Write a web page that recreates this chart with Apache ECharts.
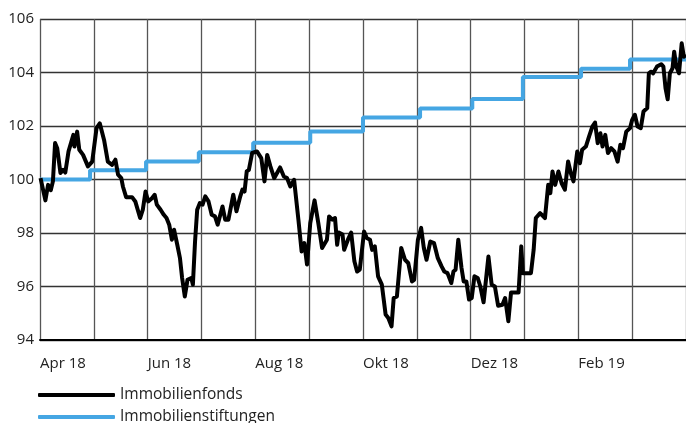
<!DOCTYPE html>
<html>
<head>
<meta charset="utf-8">
<script src="https://cdn.jsdelivr.net/npm/echarts@6/dist/echarts.min.js"></script>
<style>
  html, body { margin: 0; padding: 0; background: #fff; }
  #chart { width: 686px; height: 423px; }
</style>
</head>
<body>
<div id="chart"></div>
<script>
// Month labels along the time axis (one per month, every second one printed)
const monthLabels = ['Apr 18', 'Mai 18', 'Jun 18', 'Jul 18', 'Aug 18', 'Sep 18',
                     'Okt 18', 'Nov 18', 'Dez 18', 'Jan 19', 'Feb 19', 'Mär 19'];

// Immobilienfonds: time in months since 1 April 2018, and index value
const fondsT = [
  0.01, 0.10, 0.15, 0.20, 0.24, 0.28, 0.32, 0.38, 0.43, 0.47, 0.53, 0.62, 0.64, 0.69, 0.73, 0.80,
  0.89, 0.97, 1.05, 1.11, 1.19, 1.26, 1.34, 1.40, 1.45, 1.51, 1.54, 1.60, 1.71, 1.77, 1.86, 1.91,
  1.96, 2.01, 2.08, 2.13, 2.17, 2.24, 2.30, 2.35, 2.40, 2.45, 2.49, 2.55, 2.60, 2.64, 2.69, 2.74,
  2.81, 2.84, 2.88, 2.92, 2.97, 3.02, 3.07, 3.13, 3.19, 3.25, 3.30, 3.39, 3.44, 3.50, 3.59, 3.65,
  3.72, 3.76, 3.80, 3.84, 3.88, 3.94, 4.03, 4.11, 4.17, 4.22, 4.28, 4.35, 4.46, 4.53, 4.59, 4.65,
  4.72, 4.80, 4.86, 4.91, 4.96, 5.02, 5.10, 5.17, 5.24, 5.33, 5.37, 5.43, 5.48, 5.52, 5.55, 5.62,
  5.65, 5.72, 5.78, 5.84, 5.89, 5.94, 6.02, 6.07, 6.13, 6.17, 6.22, 6.28, 6.35, 6.42, 6.47, 6.53,
  6.57, 6.63, 6.71, 6.78, 6.84, 6.91, 6.95, 7.02, 7.08, 7.13, 7.18, 7.25, 7.32, 7.39, 7.46, 7.51,
  7.57, 7.64, 7.68, 7.72, 7.77, 7.83, 7.87, 7.92, 7.97, 8.02, 8.07, 8.13, 8.18, 8.24, 8.33, 8.39,
  8.45, 8.51, 8.59, 8.64, 8.70, 8.75, 8.89, 8.94, 8.97, 9.12, 9.17, 9.21, 9.29, 9.38, 9.44, 9.48,
  9.52, 9.57, 9.63, 9.69, 9.75, 9.81, 9.86, 9.91, 9.98, 10.03, 10.07, 10.14, 10.20, 10.26, 10.31, 10.36,
  10.41, 10.45, 10.50, 10.55, 10.61, 10.67, 10.73, 10.78, 10.83, 10.89, 10.96, 11.00, 11.05, 11.10, 11.16, 11.21,
  11.28, 11.31, 11.35, 11.39, 11.46, 11.54, 11.58, 11.62, 11.66, 11.70, 11.75, 11.78, 11.82, 11.87, 11.92, 11.96,
  12.00
];
const fondsValues = [
  100.05, 99.22, 99.80, 99.60, 99.93, 101.36, 101.17, 100.24, 100.36, 100.26, 101.05, 101.67, 101.23, 101.79, 101.11, 100.92,
  100.49, 100.67, 101.92, 102.10, 101.48, 100.67, 100.55, 100.74, 100.18, 100.05, 99.74, 99.34, 99.34, 99.18, 98.56, 98.87,
  99.55, 99.18, 99.30, 99.43, 99.06, 98.87, 98.68, 98.56, 98.31, 97.75, 98.12, 97.56, 97.06, 96.32, 95.63, 96.25,
  96.32, 96.07, 97.68, 98.87, 99.12, 99.06, 99.37, 99.18, 98.68, 98.62, 98.31, 98.99, 98.50, 98.50, 99.43, 98.81,
  99.37, 99.62, 99.55, 100.30, 100.36, 100.99, 101.05, 100.80, 99.93, 100.92, 100.49, 100.05, 100.45, 100.11, 100.05, 99.74,
  99.99, 98.50, 97.31, 97.62, 96.82, 98.37, 99.22, 98.37, 97.44, 97.75, 98.62, 98.50, 98.56, 97.56, 98.02, 97.94,
  97.37, 97.75, 98.02, 96.94, 96.56, 96.63, 98.06, 97.81, 97.75, 97.37, 97.50, 96.38, 96.07, 94.95, 94.82, 94.51,
  95.57, 95.63, 97.44, 97.00, 96.88, 96.19, 96.25, 97.75, 98.19, 97.44, 97.00, 97.68, 97.62, 97.06, 96.75, 96.56,
  96.50, 96.13, 96.56, 96.63, 97.75, 96.69, 96.19, 96.19, 95.51, 95.57, 96.38, 96.32, 96.00, 95.41, 97.12, 96.07,
  96.00, 95.28, 95.32, 95.57, 94.70, 95.78, 95.78, 97.50, 96.50, 96.50, 97.37, 98.56, 98.74, 98.56, 99.80, 99.49,
  100.30, 99.80, 100.30, 99.86, 99.62, 100.67, 100.24, 99.93, 101.05, 100.61, 101.11, 101.23, 101.61, 101.98, 102.13, 101.36,
  101.73, 101.23, 101.67, 100.99, 101.17, 101.05, 100.67, 101.30, 101.17, 101.79, 101.92, 102.23, 102.42, 101.98, 101.92, 102.54,
  102.67, 103.97, 104.03, 103.97, 104.22, 104.31, 104.22, 103.41, 103.00, 103.97, 104.16, 104.78, 104.22, 103.97, 105.09, 104.59,
  104.66
];

// Immobilienstiftungen: monthly step series (time of each change, new level)
const stiftungT = [0, 0.93, 1.97, 2.95, 3.96, 5.02, 6.00, 7.06, 8.03, 8.97, 10.05, 10.96, 12];
const stiftungValues = [100.00, 100.35, 100.67, 101.02, 101.37, 101.79, 102.32, 102.65, 103.01, 103.83, 104.14, 104.49, 104.49];

const yTicks = { min: 94, max: 106, interval: 2 };

const fondsData = fondsT.map((t, i) => [t, fondsValues[i]]);
const stiftungData = stiftungT.map((t, i) => [t, stiftungValues[i]]);

const FONT = '"Open Sans", "Noto Sans", sans-serif';
const BLUE = '#45a6e3';

const chart = echarts.init(document.getElementById('chart'), null, { renderer: 'canvas' });
chart.setOption({
  animation: false,
  backgroundColor: '#ffffff',
  grid: { left: 40, right: 0, top: 19, bottom: 83, containLabel: false },
  xAxis: {
    type: 'value',
    min: 0,
    max: 12,
    interval: 1,
    axisLine: { show: true, lineStyle: { color: '#000', width: 2 } },
    axisTick: { show: false },
    splitLine: { show: true, lineStyle: { color: '#555', width: 1.3 } },
    axisLabel: {
      show: true,
      showMaxLabel: false,
      align: 'left',
      margin: 16,
      color: '#222',
      fontFamily: FONT,
      fontSize: 15,
      formatter: v => (v % 2 === 0 && v < 12) ? monthLabels[v] : ''
    }
  },
  yAxis: {
    type: 'value',
    min: yTicks.min,
    max: yTicks.max,
    interval: yTicks.interval,
    axisLine: { show: false },
    axisTick: { show: false },
    splitLine: { show: true, lineStyle: { color: '#333', width: 1.3 } },
    axisLabel: {
      margin: 6,
      color: '#222',
      fontFamily: FONT,
      fontSize: 15
    }
  },
  legend: {
    orient: 'vertical',
    left: 38,
    top: 386,
    width: 300,
    height: 60,
    padding: 0,
    icon: 'roundRect',
    itemWidth: 77,
    itemHeight: 4,
    itemGap: 4,
    textStyle: { color: '#222', fontFamily: FONT, fontSize: 15.5, lineHeight: 18 },
    data: [
      { name: 'Immobilienfonds', itemStyle: { color: '#000' } },
      { name: 'Immobilienstiftungen', itemStyle: { color: BLUE } }
    ]
  },
  series: [
    {
      name: 'Immobilienstiftungen',
      type: 'line',
      step: 'end',
      symbol: 'none',
      data: stiftungData,
      lineStyle: { color: BLUE, width: 4 },
      itemStyle: { color: BLUE },
      z: 3
    },
    {
      name: 'Immobilienfonds',
      type: 'line',
      symbol: 'none',
      data: fondsData,
      lineStyle: { color: '#000', width: 4, join: 'round' },
      itemStyle: { color: '#000' },
      z: 4
    }
  ]
});
</script>
</body>
</html>
